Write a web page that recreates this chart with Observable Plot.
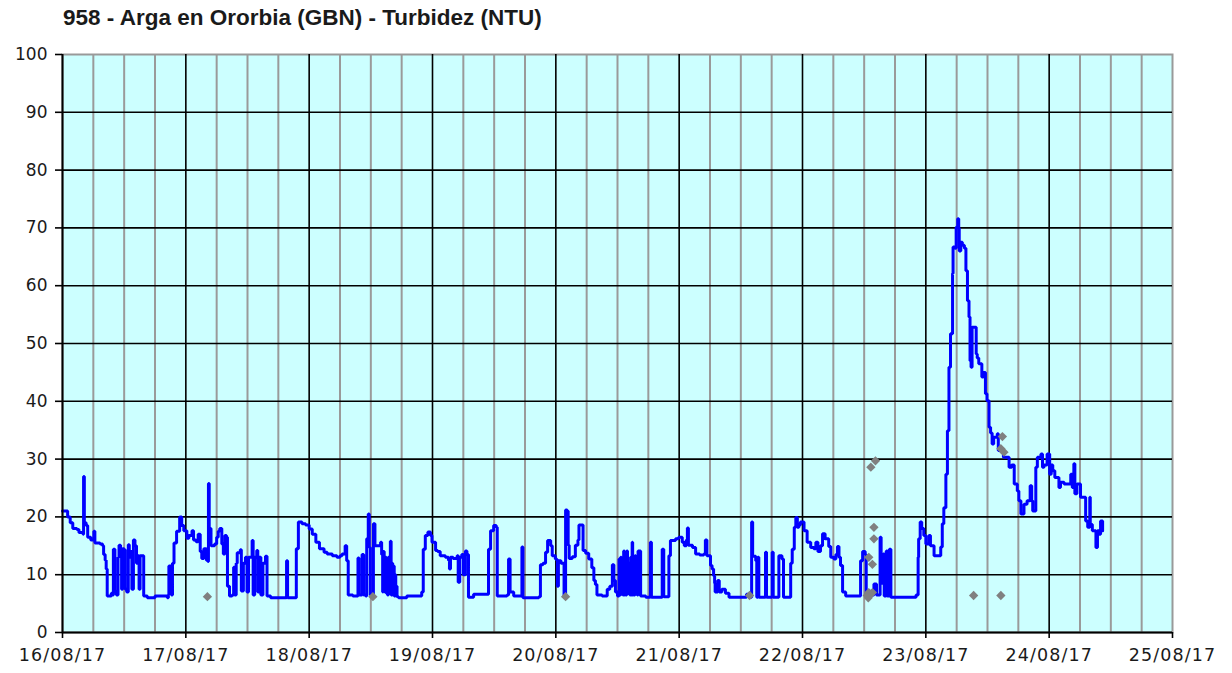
<!DOCTYPE html>
<html>
<head>
<meta charset="utf-8">
<script src="https://cdn.jsdelivr.net/npm/d3@7"></script>
<script src="https://cdn.jsdelivr.net/npm/@observablehq/plot@0.6"></script>
<style>
  html, body { margin: 0; padding: 0; background: #ffffff; }
  #wrap { position: relative; width: 1232px; height: 673px; overflow: hidden; }
  #title { position: absolute; left: 63px; top: 5px; font-family: "Liberation Sans", Arial, sans-serif; font-weight: bold; font-size: 22.5px; color: #1a1a1a; white-space: nowrap; }
  #chart { position: absolute; left: 0; top: 38px; }
</style>
</head>
<body>
<div id="wrap">
  <div id="title">958 - Arga en Ororbia (GBN) - Turbidez (NTU)</div>
  <div id="chart"></div>
</div>
<script>
// ---- Data (hours since 16/08/17 00:00, turbidity NTU) ----
const startDay = "2017-08-16";
const endDay = "2017-08-25";

const turbHours = [
  0,0.6,1.0,1.5,2.0,2.8,3.2,4.0,4.1,4.25,4.6,4.9,5.5,6.0,6.1,6.3,7.3,7.8,8.0,8.3,8.5,8.7,9.3,9.5,9.7,9.9,10.2,10.5,10.8,11.0,11.3,11.5,11.7,12.0,12.2,12.5,12.8,13.0,13.3,13.5,13.8,14.1,14.4,14.7,14.9,15.1,15.5,15.8,16.5,17.5,18.0,19.5,20.4,20.6,20.7,21.0,21.2,21.4,21.7,22.2,22.8,23.2,23.6,24.2,
  24.6,25.2,25.5,26.0,26.4,26.8,27.1,27.5,28.0,28.3,28.4,28.55,28.9,29.6,30.0,30.3,30.6,31.0,31.3,31.6,31.9,32.1,32.5,33.0,33.3,33.5,33.8,34.0,34.6,34.8,35.2,35.6,35.9,36.2,36.9,37.1,37.4,37.8,38.0,38.3,38.6,39.0,39.5,39.8,40.5,42.0,43.5,43.6,43.8,45.3,45.5,45.9,46.6,47.3,48.0,
  48.6,49.3,50.0,50.9,51.5,52.5,53.4,54.0,54.4,55.0,55.3,55.6,56.5,57.3,57.5,57.7,58.1,58.3,58.6,59.0,59.2,59.5,59.7,59.9,60.3,60.5,60.8,61.4,61.9,62.1,62.3,62.4,62.6,62.7,62.85,63.0,63.1,63.25,63.4,63.5,63.65,63.8,63.95,64.1,64.25,64.4,64.55,64.7,64.85,65.0,65.1,65.4,67.0,69.0,69.6,69.9,70.2,70.6,71.1,71.6,71.9,72.6,
  73.0,73.5,74.5,75.1,75.3,75.5,76.0,76.8,77.0,77.3,77.7,78.0,78.4,78.7,79.0,80.0,81.5,82.6,82.9,83.3,83.9,84.4,84.6,85.5,86.5,86.8,87.1,87.8,89.2,89.4,89.6,91.0,92.7,93.0,93.5,94.0,94.4,95.0,95.3,95.9,96.2,96.3,96.5,97.0,97.6,
  97.8,97.9,98.2,98.4,98.6,99.2,99.8,100.3,100.5,101.0,101.3,101.8,102.4,103.0,103.4,103.7,104.0,105.0,105.7,106.0,106.5,107.0,107.3,107.6,108.0,108.3,108.45,108.6,108.75,108.9,109.05,109.2,109.35,109.5,109.65,109.8,109.95,110.1,110.25,110.4,110.55,110.7,110.85,110.95,111.1,111.25,111.4,111.55,111.7,111.85,112.0,112.2,112.5,113.5,114.1,114.4,114.6,116.4,116.7,117.0,117.7,118.0,118.3,119.3,119.9,
  120.6,121.0,121.4,121.6,121.8,122.6,123.2,124.0,124.8,125.1,125.4,126.1,126.4,126.7,126.9,127.0,127.5,127.8,128.3,129.0,129.7,131.0,132.9,133.1,133.5,133.9,134.1,134.3,134.9,135.1,135.3,135.5,136.5,136.8,137.0,137.8,138.1,138.3,139.1,139.4,140.0,140.3,141.4,141.7,142.0,142.4,142.7,143.0,143.3,143.6,144.3,
  144.9,145.6,146.2,146.6,147.0,147.5,147.9,148.4,149.1,149.5,150.1,150.5,150.8,151.1,151.4,151.8,152.4,154.0,155.0,155.3,155.7,156.2,156.4,157.0,157.5,157.9,158.2,158.4,158.8,159.1,159.3,159.7,159.9,160.3,160.5,160.9,161.2,162.0,164.0,165.9,166.1,166.5,166.6,166.9,167.2,167.6,168.0,168.6,168.9,169.6,170.4,170.9,171.2,171.5,171.9,172.2,172.5,172.8,173.2,
  173.3,173.7,173.9,174.2,174.4,174.5,174.8,175.1,175.5,175.8,176.1,176.4,176.6,176.8,177.0,177.6,177.8,178.0,178.3,178.6,178.9,179.2,179.6,179.9,180.3,180.6,180.9,181.2,181.9,182.1,182.8,183.1,183.8,184.2,184.7,185.2,185.8,186.1,186.5,187.1,187.7,188.3,188.6,188.8,189.3,189.4,189.7,190.4,190.7,191.0,191.6,192.1,192.4,192.7,193.1,193.9,194.2,194.9,195.6,196.2,196.5,196.8,197.0,197.4,198.1,198.8,199.1,199.5,199.9,200.0,200.4,201.1,201.4,201.7,202.0,202.4
];
const turbValues = [
  21.0,21.0,20.0,19.0,18.0,17.8,17.3,17.0,27.0,19.0,18.5,16.5,16.0,16.0,17.5,15.5,15.3,15.0,13.5,12.5,11.0,6.3,6.3,6.8,6.5,14.4,7.0,6.5,13.0,15.1,14.5,7.5,14.5,14.3,7.5,7.0,15.2,13.0,14.0,7.5,16.0,15.0,12.0,13.3,7.5,13.3,13.3,6.3,6.0,6.0,6.3,6.3,6.0,6.5,11.5,11.5,6.5,12.0,15.5,17.5,20.0,18.5,17.6,16.3,
  16.8,17.6,16.0,15.7,17.0,14.0,12.8,14.5,12.5,12.3,25.8,18.0,15.0,15.3,16.5,17.5,18.0,15.3,13.6,16.8,16.5,8.0,6.3,6.5,11.3,6.5,12.0,13.8,14.3,7.2,12.0,13.0,7.0,13.0,15.9,6.5,13.0,14.2,7.0,13.0,6.5,12.0,13.2,6.3,6.0,6.0,6.0,12.4,6.0,6.0,14.5,19.1,18.8,18.6,17.9,
  17.0,15.6,14.5,13.9,13.6,13.3,13.0,13.3,13.6,15.0,12.4,6.5,6.3,6.3,12.9,6.5,6.5,13.5,6.5,6.3,16.2,20.5,14.7,6.5,6.5,18.8,15.0,15.0,15.6,13.5,7.0,14.0,11.8,7.0,13.0,6.8,12.5,6.5,13.0,7.0,12.0,15.8,6.5,12.0,6.5,11.5,6.3,10.0,6.3,8.0,6.2,6.0,6.3,6.3,6.3,7.0,14.4,16.8,17.4,16.8,15.6,14.2,
  14.0,13.3,13.0,12.5,11.0,13.0,12.8,13.3,8.7,13.0,13.5,10.0,14.1,13.5,6.1,6.6,6.6,6.6,14.4,17.6,18.5,18.2,6.3,6.3,6.5,12.7,7.0,6.3,6.3,14.8,6.0,6.0,6.2,11.7,12.0,13.9,15.9,15.0,13.3,12.7,12.4,8.0,12.4,12.0,6.1,
  6.1,21.2,21.0,15.1,12.8,13.1,15.1,16.0,18.6,18.6,14.2,13.7,12.7,11.2,9.0,8.3,6.5,6.3,6.3,7.5,8.0,11.7,9.0,7.0,6.3,12.7,6.5,13.0,6.8,12.5,6.5,14.1,6.5,12.0,6.5,14.1,11.5,6.8,12.0,6.5,13.0,6.5,15.6,6.5,12.5,6.5,13.3,6.8,12.0,6.5,14.1,14.1,6.3,6.1,6.1,15.6,6.1,6.1,14.4,6.2,6.2,13.3,15.9,16.2,16.5,
  15.6,15.0,16.0,18.1,15.1,14.7,13.6,13.4,13.6,16.0,13.3,11.6,11.0,9.8,8.5,7.0,9.0,7.0,7.5,6.8,6.1,6.1,6.1,6.6,6.1,6.1,19.1,13.2,12.4,6.1,13.0,6.1,6.1,13.9,6.1,6.1,13.9,6.1,6.1,13.3,12.7,6.1,6.1,12.0,14.4,18.2,19.9,18.2,18.6,19.1,17.6,
  15.6,14.7,14.5,15.6,14.0,15.0,17.1,16.2,14.9,13.0,12.7,13.5,14.9,13.0,11.6,7.0,6.3,6.3,6.3,12.4,14.0,13.5,6.6,6.8,6.5,8.4,8.4,6.5,6.5,16.5,8.5,13.6,6.3,14.1,6.3,14.4,6.1,6.1,6.1,6.1,6.5,13.0,16.2,19.1,18.0,16.8,15.3,16.8,15.0,13.3,13.3,14.8,18.8,21.6,27.4,34.9,45.9,51.7,62.1,
  66.7,66.5,70.1,71.6,70.0,66.0,67.5,67.0,66.5,62.6,57.4,54.6,47.0,45.9,52.8,52.8,48.2,47.5,46.5,46.5,44.2,45.0,41.3,40.1,35.5,34.5,32.6,33.8,34.4,31.5,31.5,30.3,30.3,28.6,29.0,25.7,24.5,22.8,20.5,22.2,22.8,25.4,22.8,21.0,21.0,28.6,30.3,30.9,28.6,29.0,30.9,27.4,29.0,28.0,26.8,25.1,26.0,25.7,25.7,27.4,25.1,29.2,24.0,25.7,23.4,23.4,19.3,18.2,23.4,18.7,17.6,14.7,17.6,17.0,19.3,17.6
];

// grey diamond points (flagged values)
const flagHours = [28.2,60.4,97.9,133.7,156.6,156.9,157.3,157.6,157.9,158.2,157.9,156.9,157.6,156.8,157.2,177.3,182.6,182.9,182.6,183.2];
const flagValues = [6.2,6.2,6.2,6.4,6.4,6.9,28.6,11.8,18.2,29.7,16.2,13.0,6.9,6.0,6.6,6.4,6.4,33.9,31.8,31.2];

const yTicks = [0,10,20,30,40,50,60,70,80,90,100];
const yGrid = [10,20,30,40,50,60,70,80,90];

// ---- build tables ----
const t0 = new Date(startDay + "T00:00:00Z").getTime();
const toDate = h => new Date(t0 + h * 3600000);
const nPts = Math.min(turbHours.length, turbValues.length);
const series = turbHours.slice(0, nPts).map((h, i) => ({t: toDate(h), v: turbValues[i]}));
const flags = flagHours.map((h, i) => ({t: toDate(h), v: flagValues[i]}));
const x0 = new Date(startDay + "T00:00:00Z");
const x1 = new Date(endDay + "T00:00:00Z");
const dayTicks = d3.utcDay.range(x0, d3.utcDay.offset(x1, 1));
const innerDays = dayTicks.filter(d => +d !== +x0 && +d !== +x1);
const sixHours = d3.utcHour.every(6).range(x0, x1).filter(d => d.getUTCHours() !== 0);
const fmt = d3.utcFormat("%d/%m/%y");

const chart = Plot.plot({
  width: 1232,
  height: 635,
  marginTop: 16,
  marginBottom: 41,
  marginLeft: 62,
  marginRight: 60,
  x: {type: "utc", domain: [x0, x1]},
  y: {domain: [0, 100]},
  style: {fontFamily: "'DejaVu Sans', Verdana, sans-serif", fontSize: "17px", color: "#1a1a1a", background: "transparent"},
  marks: [
    Plot.frame({fill: "#ccffff", stroke: "#999999", strokeWidth: 2}),
    Plot.ruleX(sixHours, {stroke: "#9a9a9a", strokeWidth: 2}),
    Plot.ruleX(innerDays, {stroke: "#000000", strokeWidth: 1.6}),
    Plot.ruleY(yGrid, {stroke: "#000000", strokeWidth: 1.6}),
    Plot.line(series, {x: "t", y: "v", stroke: "#0000ff", strokeWidth: 3, curve: "step-after", strokeLinejoin: "miter"}),
    Plot.dot(flags, {x: "t", y: "v", symbol: "diamond2", fill: "#808080", stroke: "none", r: 4.2}),
    Plot.axisX({ticks: dayTicks, tickFormat: fmt, tickSize: 6, tickPadding: 10, label: null, stroke: "#000", strokeWidth: 1.6, fontSize: 17.5}),
    Plot.axisY({ticks: yTicks, tickSize: 7, tickPadding: 8, label: null, stroke: "#000", strokeWidth: 1.6}),
    Plot.ruleY([0], {stroke: "#000000", strokeWidth: 2}),
    Plot.ruleX([x0], {stroke: "#000000", strokeWidth: 2})
  ]
});
chart.querySelectorAll('g[aria-label="x-axis tick label"] text').forEach(t => {
  t.style.letterSpacing = "1.1px";
});
document.getElementById("chart").appendChild(chart);
</script>
</body>
</html>
